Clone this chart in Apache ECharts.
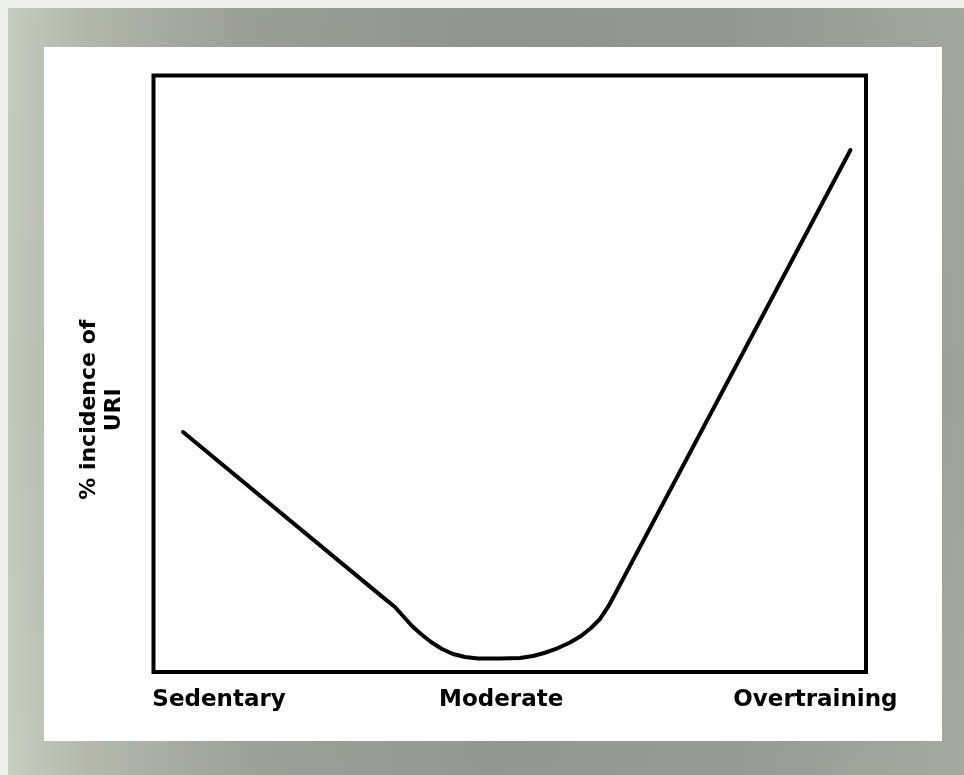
<!DOCTYPE html>
<html>
<head>
<meta charset="utf-8">
<script src="https://cdn.jsdelivr.net/npm/echarts@6/dist/echarts.min.js"></script>
<style>
  html, body { margin: 0; padding: 0; width: 964px; height: 775px; background: #efefea; overflow: hidden; }
  #bg { position: absolute; left: 8px; top: 8px; width: 956px; height: 767px;
        background:
          linear-gradient(180deg, rgba(255,255,255,0.05) 0%, rgba(0,0,0,0.0) 50%, rgba(255,255,255,0.08) 100%),
          linear-gradient(90deg, #c4c8bc 0%, #aeb3a7 8%, #959a91 25%, #8b8f88 50%, #8e928b 75%, #9ea298 100%); }
  #panel { position: absolute; left: 44px; top: 47px; width: 898px; height: 694px; background: #ffffff; }
  #chart { position: absolute; left: 0; top: 0; width: 964px; height: 775px; }
</style>
</head>
<body>
<div id="bg"></div>
<div id="panel"></div>
<div id="chart"></div>
<script>
// Training level (0 = sedentary, 100 = overtraining) and % incidence of URI
const trainingLevel = [4.14, 32.21, 33.89, 35.02, 36.28, 37.54, 38.95, 40.49, 42.04, 43.72, 45.54, 48.63, 51.44, 53.26, 55.09, 56.77, 58.46, 60.00, 61.40, 62.67, 63.79, 64.63, 97.82];
const uriIncidence  = [40.23, 12.51, 10.90, 9.39, 7.71, 6.37, 5.03, 3.86, 3.02, 2.51, 2.26, 2.26, 2.35, 2.68, 3.27, 4.02, 4.95, 6.04, 7.38, 8.89, 10.90, 12.74, 87.51];

const categoryLabels = ['Sedentary', 'Moderate', 'Overtraining'];
const categoryPositions = [9.2, 48.8, 92.9];

const yAxisTitle = '% incidence of\nURI';

const seriesData = trainingLevel.map((x, i) => [x, uriIncidence[i]]);

const chart = echarts.init(document.getElementById('chart'), null, { renderer: 'canvas' });
chart.setOption({
  backgroundColor: 'transparent',
  animation: false,
  grid: {
    left: 153.5, top: 75.5, right: 98, bottom: 103,
    show: true, borderColor: '#000000', borderWidth: 4, backgroundColor: 'transparent'
  },
  xAxis: {
    type: 'value', min: 0, max: 100,
    splitLine: { show: false },
    axisLine: { show: false },
    axisTick: { show: false },
    axisLabel: {
      customValues: categoryPositions,
      formatter: function (v) {
        const idx = categoryPositions.indexOf(v);
        return idx >= 0 ? categoryLabels[idx] : '';
      },
      margin: 17,
      color: '#000000',
      fontFamily: 'DejaVu Sans',
      fontWeight: 'bold',
      fontSize: 23
    }
  },
  yAxis: {
    type: 'value', min: 0, max: 100,
    splitLine: { show: false },
    axisLine: { show: false },
    axisTick: { show: false },
    axisLabel: { show: false },
    name: yAxisTitle,
    nameLocation: 'middle',
    nameRotate: 90,
    nameGap: 27,
    nameTextStyle: {
      color: '#000000',
      fontFamily: 'DejaVu Sans',
      fontWeight: 'bold',
      fontSize: 22,
      lineHeight: 25,
      padding: [0, 72, 0, 0]
    }
  },
  series: [{
    type: 'line',
    data: seriesData,
    showSymbol: false,
    smooth: false,
    lineStyle: { color: '#000000', width: 4, join: 'round', cap: 'round' }
  }]
});
</script>
</body>
</html>
